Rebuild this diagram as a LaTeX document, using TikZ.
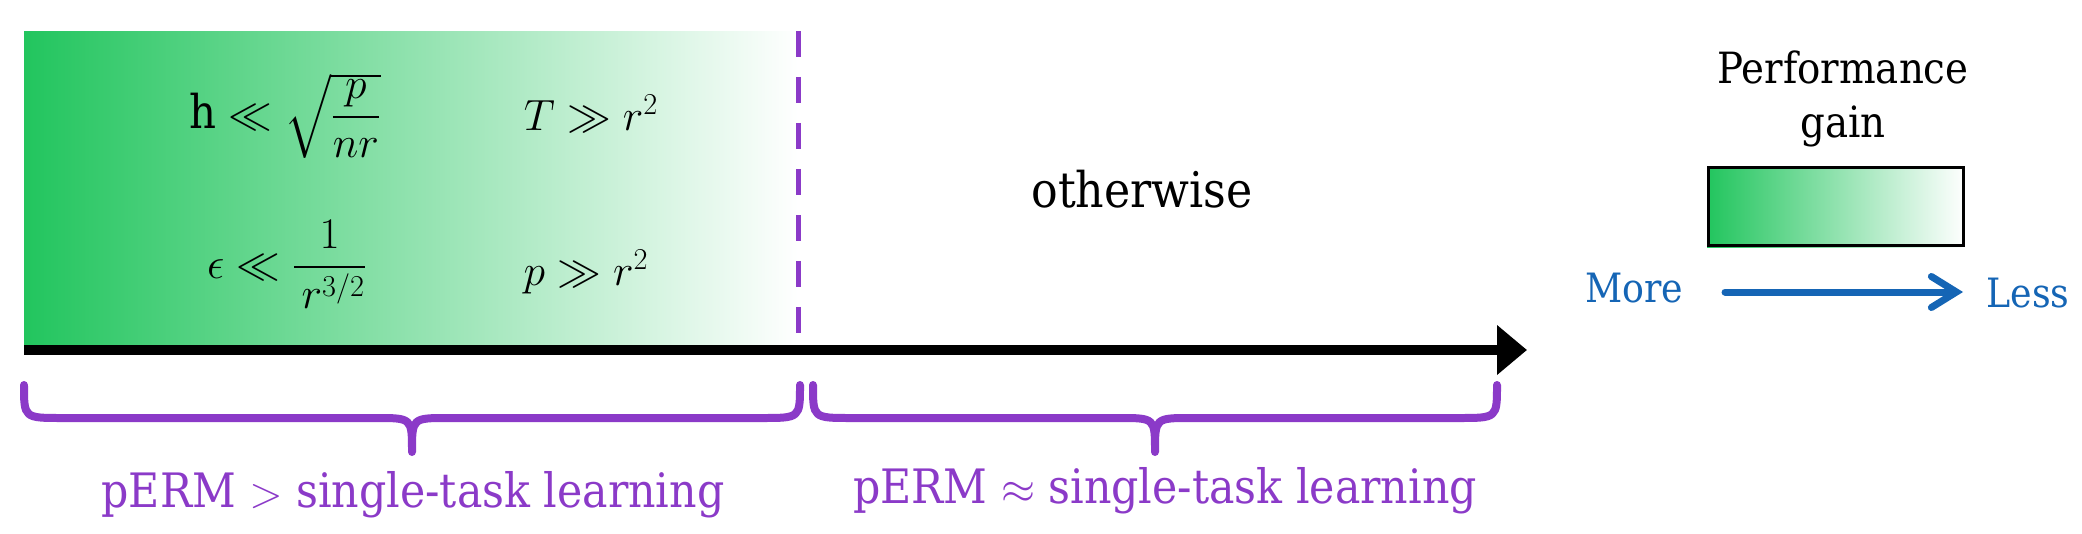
\documentclass[tikz,border=0pt]{standalone}
\usepackage{amsmath,amssymb}
\usepackage{fontspec}
\setmainfont{DejaVu Serif Condensed}
\usetikzlibrary{arrows.meta}
\definecolor{pgreen}{RGB}{34,197,94}
\definecolor{ppurple}{RGB}{139,58,200}
\definecolor{pblue}{RGB}{21,101,181}
\tikzset{
  mtext/.style={font=\fontsize{26.5}{31}\selectfont, inner sep=0pt, anchor=base},
  ltext/.style={font=\fontsize{23}{28}\selectfont, inner sep=0pt, anchor=base},
  btext/.style={font=\fontsize{27}{32}\selectfont, inner sep=0pt, anchor=base, text=ppurple},
  bracestyle/.style={draw=ppurple, line width=0.16cm, line cap=round, line join=round},
  divider/.style={draw=ppurple, line width=0.1cm, dash pattern=on 0.52cm off 0.4cm},
}
\begin{document}
\begin{tikzpicture}[x=0.02cm, y=-0.02cm]
\useasboundingbox (0,0) rectangle (2082,534);
% gradient region
\shade[left color=pgreen, right color=white] (24,31) rectangle (798,345);
% axis
\coordinate (a0) at (24,350);
\coordinate (a1) at (1527,350);
\draw[line width=0.2cm, -{Triangle[length=0.6cm,width=0.96cm]}] (a0) -- (a1);
% divider
\coordinate (d0) at (798,31);
\coordinate (d1) at (798,345);
\draw[divider] (d0) -- (d1);
% conditions
\node[mtext] (c1) at (285,128) {$\mathrm{h}\ll\sqrt{\dfrac{p}{nr}}$};
\node[mtext] (c2) at (591,130) {$T\gg r^2$};
\node[mtext] (c3) at (287,278) {$\epsilon\ll\dfrac{\,1\,}{\,r^{3/2}}$};
\node[mtext] (c4) at (586,285) {$p\gg r^2$};
\node[ltext, font=\fontsize{28}{33}\selectfont] (oth) at (1142,207) {otherwise};
% braces
\draw[bracestyle] (24,385) .. controls (24,418) .. (62,418) -- (376,418) .. controls (412,418) .. (412,452)
  .. controls (412,418) .. (448,418) -- (762,418) .. controls (800,418) .. (800,385);
\draw[bracestyle] (813,385) .. controls (813,418) .. (851,418) -- (1119,418) .. controls (1155,418) .. (1155,452)
  .. controls (1155,418) .. (1191,418) -- (1459,418) .. controls (1497,418) .. (1497,385);
\node[btext] (l1) at (413,507) {pERM $>$ single-task learning};
\node[btext] (l2) at (1165,503) {pERM $\approx$ single-task learning};
% legend
\node[ltext, font=\fontsize{24.5}{29}\selectfont] (pg1) at (1843,83) {Performance};
\node[ltext, font=\fontsize{24.5}{29}\selectfont] (pg2) at (1843,137) {gain};
\shade[left color=pgreen, right color=white] (1707,166) rectangle (1965,247);
\node[draw=black, line width=0.06cm, minimum width=5.16cm-0.06cm, minimum height=1.62cm-0.06cm, inner sep=0pt] (box) at (1836,206.5) {};
\node[ltext, text=pblue] (more) at (1634,302) {More};
\node[ltext, text=pblue] (less) at (2028,307) {Less};
\coordinate (b0) at (1725,292);
\coordinate (b1) at (1963,292);
\draw[pblue, line width=0.14cm, line cap=round, -{Straight Barb[length=0.5cm,width=0.62cm,line cap=round]}] (b0) -- (b1);
\end{tikzpicture}
\end{document}
